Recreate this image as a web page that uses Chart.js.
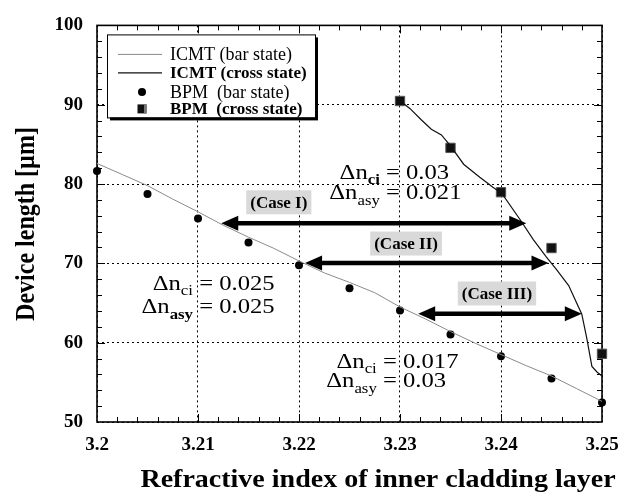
<!DOCTYPE html>
<html><head><meta charset="utf-8">
<script src="https://cdn.jsdelivr.net/npm/chart.js@4.4.0/dist/chart.umd.min.js"></script>
<style>html,body{margin:0;padding:0;background:#fff;} #c{display:block;}</style>
</head><body>
<canvas id="c" width="631" height="493"></canvas>
<script>
const xTickLabels = ['3.2','3.21','3.22','3.23','3.24','3.25'];
const yTickLabels = ['50','60','70','80','90','100'];
const bpmBarX = [3.2,3.205,3.21,3.215,3.22,3.225,3.23,3.235,3.24,3.245,3.25];
const bpmBarY = [81.65,78.76,75.65,72.63,69.77,66.87,64.06,61.03,58.3,55.49,52.46];
const bpmCrossX = [3.23,3.235,3.24,3.245,3.25];
const bpmCrossY = [90.47,84.56,78.97,71.93,58.6];
const icmtBarX = [3.2,3.2025,3.205,3.2075,3.21,3.2125,3.215,3.2175,3.22,3.2225,3.225,3.2275,3.23,3.2325,3.235,3.2375,3.24,3.2425,3.245,3.2475,3.25];
const icmtBarY = [82.6,81.2,79.8,78.1,76.5,74.8,73.3,71.9,70.3,68.8,67.6,66.3,64.5,63.0,61.4,59.9,58.5,57.1,55.8,54.2,52.6];
const icmtCrossX = [3.23,3.231,3.2321,3.2331,3.2341,3.235,3.2363,3.2379,3.2392,3.2401,3.2419,3.2432,3.2445,3.2455,3.2467,3.248,3.2485,3.249,3.2495,3.25];
const icmtCrossY = [90.5,89.5,88.1,86.9,86.2,84.8,82.5,80.85,79.6,78.8,75.5,73.0,70.8,69.2,67.2,63.6,60.5,57.0,56.3,55.8];

const legendLabels = [['ICMT (bar state)', false], ['ICMT (cross state)', true], ['BPM  (bar state)', false], ['BPM  (cross state)', true]];

const arrowFrom = [3.2123, 3.2206, 3.2318];
const arrowTo = [3.2425, 3.2447, 3.2480];
const arrowY = [75.05, 70.05, 63.65];
const caseLabels = ['(Case I)', '(Case II)', '(Case III)'];
const caseLabelX = [3.2180, 3.2306, 3.2396];
const caseLabelY = [77.7, 72.5, 66.2];

const deltaX = [3.2293, 3.2108, 3.2290];
const deltaCi = ['0.03', '0.025', '0.017'];
const deltaAsy = ['0.021', '0.025', '0.03'];
const deltaY1 = [80.65, 66.66, 56.86];
const deltaY2 = [78.16, 63.68, 54.38];
const ciBold = [true, false, false];
const asyBold = [false, true, false];

const xTitle = 'Refractive index of inner cladding layer';
const yTitle = 'Device length [\u00b5m]';

const SERIF = '"Liberation Serif", "Times New Roman", serif';
const SX = 1.12;

function pts(xs, ys) { return xs.map((x, i) => ({x: x, y: ys[i]})); }

function stretchText(ctx, text, x, y, font, align, sx) {
  ctx.save();
  ctx.font = font;
  ctx.translate(x, y);
  ctx.scale(sx, 1);
  ctx.textAlign = align;
  ctx.textBaseline = 'alphabetic';
  ctx.fillText(text, 0, 0);
  ctx.restore();
}

const frame = {
  id: 'frame',
  beforeDatasetsDraw(chart) {
    const ctx = chart.ctx;
    const xs = chart.scales.x, ys = chart.scales.y;
    const a = chart.chartArea;
    ctx.save();
    ctx.strokeStyle = '#000';
    ctx.lineWidth = 1;
    ctx.beginPath();
    for (let k = 1; k < 25; k++) {
      const v = xs.min + k * (xs.max - xs.min) / 25;
      const px = Math.round(xs.getPixelForValue(v)) + 0.5;
      const len = (k % 5 === 0) ? 8 : 5;
      ctx.moveTo(px, a.bottom); ctx.lineTo(px, a.bottom - len);
      ctx.moveTo(px, a.top); ctx.lineTo(px, a.top + len);
    }
    for (let k = 1; k < 25; k++) {
      const v = ys.min + k * (ys.max - ys.min) / 25;
      const py = Math.round(ys.getPixelForValue(v)) + 0.5;
      const len = (k % 5 === 0) ? 8 : 5;
      ctx.moveTo(a.left, py); ctx.lineTo(a.left + len, py);
      ctx.moveTo(a.right, py); ctx.lineTo(a.right - len, py);
    }
    ctx.stroke();
    ctx.lineWidth = 1.6;
    ctx.strokeRect(a.left, a.top, a.right - a.left, a.bottom - a.top);
    ctx.restore();
  }
};

const decor = {
  id: 'decor',
  afterDatasetsDraw(chart) {
    const ctx = chart.ctx;
    const xs = chart.scales.x, ys = chart.scales.y;
    const a = chart.chartArea;
    ctx.save();
    ctx.fillStyle = '#000';
    ctx.strokeStyle = '#000';

    // arrows
    const head = 17, hw = 7.5;
    for (let i = 0; i < arrowFrom.length; i++) {
      const x1 = xs.getPixelForValue(arrowFrom[i]);
      const x2 = xs.getPixelForValue(arrowTo[i]);
      const y = ys.getPixelForValue(arrowY[i]);
      ctx.lineWidth = 4.5;
      ctx.beginPath();
      ctx.moveTo(x1 + head - 2, y); ctx.lineTo(x2 - head + 2, y);
      ctx.stroke();
      ctx.beginPath();
      ctx.moveTo(x1, y); ctx.lineTo(x1 + head, y - hw); ctx.lineTo(x1 + head, y + hw); ctx.closePath();
      ctx.fill();
      ctx.beginPath();
      ctx.moveTo(x2, y); ctx.lineTo(x2 - head, y - hw); ctx.lineTo(x2 - head, y + hw); ctx.closePath();
      ctx.fill();
    }

    // case labels
    ctx.font = 'bold 17px ' + SERIF;
    for (let i = 0; i < caseLabels.length; i++) {
      const cx = xs.getPixelForValue(caseLabelX[i]);
      const cy = ys.getPixelForValue(caseLabelY[i]);
      const w = ctx.measureText(caseLabels[i]).width + 8;
      ctx.fillStyle = '#d9d9d9';
      ctx.fillRect(cx - w / 2, cy - 12, w, 24);
      ctx.fillStyle = '#000';
      ctx.textAlign = 'center';
      ctx.textBaseline = 'middle';
      ctx.fillText(caseLabels[i], cx, cy + 1);
    }

    // delta n annotations
    const mainF = '22px ' + SERIF;
    function deltaLine(xe, yb, sub, subBold, val, subDrop) {
      ctx.save();
      ctx.translate(xe, yb);
      ctx.scale(SX, 1);
      ctx.textBaseline = 'alphabetic';
      ctx.textAlign = 'left';
      ctx.font = mainF;
      const wEq = ctx.measureText('=').width;
      const wSp = ctx.measureText(' ').width;
      ctx.fillText('= ' + val, -wEq / 2, 0);
      const subF = (subBold ? 'bold ' : '') + '15px ' + SERIF;
      ctx.font = subF;
      const wSub = ctx.measureText(sub).width;
      ctx.font = mainF;
      const wDn = ctx.measureText('\u0394n').width;
      const start = -wEq / 2 - wSp - wSub - wDn;
      ctx.fillText('\u0394n', start, 0);
      ctx.font = subF;
      ctx.fillText(sub, start + wDn, subDrop);
      ctx.restore();
    }
    for (let i = 0; i < deltaX.length; i++) {
      const xe = xs.getPixelForValue(deltaX[i]);
      deltaLine(xe, ys.getPixelForValue(deltaY1[i]), 'ci', ciBold[i], deltaCi[i], 5);
      deltaLine(xe, ys.getPixelForValue(deltaY2[i]), 'asy', asyBold[i], deltaAsy[i], 6);
    }

    // legend box
    const lx = a.left + 10, ly = a.top + 9, lw = 208, lh = 83;
    ctx.fillStyle = '#000';
    ctx.fillRect(lx + 3, ly + 3, lw, lh);
    ctx.fillStyle = '#fff';
    ctx.fillRect(lx, ly, lw, lh);
    ctx.lineWidth = 1;
    ctx.strokeStyle = '#000';
    ctx.strokeRect(lx + 0.5, ly + 0.5, lw, lh);
    const rowY = [20, 38.5, 57.5, 74.5];
    for (let i = 0; i < legendLabels.length; i++) {
      const ry = ly + rowY[i];
      if (i < 2) {
        ctx.strokeStyle = i === 0 ? '#8a8a8a' : '#111';
        ctx.lineWidth = i === 0 ? 1 : 1.3;
        ctx.beginPath();
        ctx.moveTo(lx + 11, ry); ctx.lineTo(lx + 55, ry);
        ctx.stroke();
      } else if (i === 2) {
        ctx.fillStyle = '#000';
        ctx.beginPath(); ctx.arc(lx + 35, ry, 4, 0, Math.PI * 2); ctx.fill();
      } else {
        ctx.fillStyle = '#111';
        ctx.fillRect(lx + 30.5, ry - 4.5, 9, 9);
        ctx.fillStyle = '#777';
        ctx.fillRect(lx + 37, ry - 4.5, 2.5, 9);
      }
      ctx.fillStyle = '#000';
      ctx.font = (legendLabels[i][1] ? 'bold 17px ' : '18px ') + SERIF;
      ctx.textAlign = 'left';
      ctx.textBaseline = 'middle';
      ctx.fillText(legendLabels[i][0], lx + 63, ry + 1);
    }

    // axis titles
    ctx.fillStyle = '#000';
    stretchText(ctx, xTitle, 378, 487, 'bold 25px ' + SERIF, 'center', SX);
    ctx.save();
    ctx.translate(34, 224);
    ctx.scale(SX, 1);
    ctx.rotate(-Math.PI / 2);
    ctx.font = 'bold 24px ' + SERIF;
    ctx.textAlign = 'center';
    ctx.textBaseline = 'alphabetic';
    ctx.fillText(yTitle, 0, 0);
    ctx.restore();

    ctx.restore();
  }
};

new Chart(document.getElementById('c'), {
  type: 'scatter',
  data: {
    datasets: [
      { label: 'ICMT (cross state)', data: pts(icmtCrossX, icmtCrossY), showLine: true, borderColor: '#111', borderWidth: 1.2, pointRadius: 0, tension: 0, clip: false },
      { label: 'ICMT (bar state)', data: pts(icmtBarX, icmtBarY), showLine: true, borderColor: '#8a8a8a', borderWidth: 1, pointRadius: 0, tension: 0, clip: false },
      { label: 'BPM (cross state)', data: pts(bpmCrossX, bpmCrossY), showLine: false, pointStyle: 'rect', pointRadius: 6.6, backgroundColor: '#111', borderColor: '#555', borderWidth: 1, clip: false },
      { label: 'BPM (bar state)', data: pts(bpmBarX, bpmBarY), showLine: false, pointStyle: 'circle', pointRadius: 4, backgroundColor: '#000', borderColor: '#000', borderWidth: 0, clip: false }
    ]
  },
  options: {
    responsive: false,
    animation: false,
    devicePixelRatio: 1,
    layout: { padding: { top: 19, right: 29, left: 0, bottom: 0 } },
    plugins: { legend: { display: false }, tooltip: { enabled: false } },
    scales: {
      x: {
        type: 'linear', min: 3.2, max: 3.25,
        afterFit(s) { s.height = 71; },
        ticks: {
          stepSize: 0.01, padding: 12, color: '#000',
          font: { family: SERIF, size: 19, weight: 'bold' },
          callback: (v) => xTickLabels[Math.round((v - 3.2) / 0.01)]
        },
        grid: { color: '#000', lineWidth: 1, drawTicks: false },
        border: { display: false, dash: [2, 3] }
      },
      y: {
        type: 'linear', min: 50, max: 100,
        afterFit(s) { s.width = 97; },
        ticks: {
          stepSize: 10, padding: 14, color: '#000',
          font: { family: SERIF, size: 19, weight: 'bold' },
          callback: (v) => yTickLabels[Math.round((v - 50) / 10)]
        },
        grid: { color: '#000', lineWidth: 1, drawTicks: false },
        border: { display: false, dash: [2, 3] }
      }
    }
  },
  plugins: [frame, decor]
});
</script>
</body></html>
